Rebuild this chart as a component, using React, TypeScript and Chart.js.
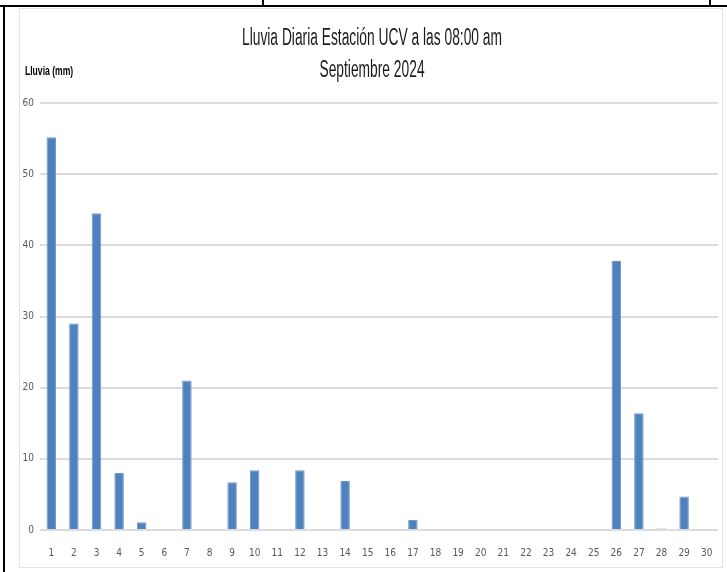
import React, { useEffect, useRef } from "react";
import { Chart, registerables } from "chart.js";

Chart.register(...registerables);

const days = Array.from({ length: 30 }, (_, i) => String(i + 1));
const rainfall = [
  55.2, 29.0, 44.5, 8.0, 1.1, 0, 21.0, 0, 6.7, 8.4,
  0, 8.4, 0, 6.9, 0, 0, 1.4, 0, 0, 0,
  0, 0, 0, 0, 0, 37.8, 16.4, 0.2, 4.7, 0,
];
const titleLines = ["Lluvia Diaria Estación UCV a las 08:00 am", "Septiembre 2024"];
const yAxisLabel = "Lluvia (mm)";

const FONT = "'DejaVu Sans Condensed', 'Liberation Sans', sans-serif";

function narrowText(ctx: CanvasRenderingContext2D, text: string, x: number, y: number, sx: number, align: CanvasTextAlign) {
  ctx.save();
  ctx.translate(x, y);
  ctx.scale(sx, 1);
  ctx.textAlign = align;
  ctx.fillText(text, 0, 0);
  ctx.restore();
}

export default function App() {
  const ref = useRef<HTMLCanvasElement>(null);

  useEffect(() => {
    document.body.style.margin = "0";
    const textPlugin = {
      id: "textPlugin",
      afterDraw(chart: any) {
        const ctx = chart.ctx as CanvasRenderingContext2D;
        ctx.save();
        ctx.fillStyle = "#1a1a1a";
        ctx.textBaseline = "middle";
        ctx.font = `23px 'Liberation Sans', sans-serif`;
        narrowText(ctx, titleLines[0], 352, 30, 0.6, "center");
        narrowText(ctx, titleLines[1], 352, 62, 0.6, "center");
        ctx.font = `bold 13px 'Liberation Sans', sans-serif`;
        ctx.fillStyle = "#000";
        narrowText(ctx, yAxisLabel, 5, 62, 0.66, "left");
        ctx.restore();
      },
    };
    const chart = new Chart(ref.current!, {
      type: "bar",
      data: {
        labels: days,
        datasets: [
          {
            data: rainfall,
            backgroundColor: "#4f81bd",
            borderColor: "#6f98cc",
            borderWidth: 1,
            barPercentage: 0.42,
            categoryPercentage: 1,
          },
        ],
      },
      options: {
        animation: false,
        responsive: false,
        layout: { padding: { top: 94, right: 4, left: 0, bottom: 0 } },
        plugins: { legend: { display: false }, title: { display: false }, tooltip: { enabled: false } },
        scales: {
          x: {
            grid: { display: false },
            border: { display: false },
            ticks: { color: "#595959", font: { family: FONT, size: 10 }, padding: 9, maxRotation: 0, autoSkip: false },
            afterFit(scale: any) {
              scale.height = 37;
            },
          },
          y: {
            min: 0,
            max: 60,
            ticks: { stepSize: 10, color: "#595959", font: { family: FONT, size: 10 }, padding: 6 },
            grid: { color: "#dcdcdc", lineWidth: 2, drawTicks: false },
            border: { display: false },
            afterFit(scale: any) {
              scale.width = 20;
            },
          },
        },
      },
      plugins: [textPlugin],
    });
    return () => chart.destroy();
  }, []);

  return (
    <div style={{ position: "fixed", left: 0, top: 0, width: 727, height: 572, background: "#fff" }}>
      <div style={{ position: "absolute", left: 0, top: 5, width: 727, height: 2, background: "#000" }} />
      <div style={{ position: "absolute", left: 3, top: 5, width: 2, height: 567, background: "#000" }} />
      <div style={{ position: "absolute", left: 262, top: 0, width: 2, height: 6, background: "#000" }} />
      <div style={{ position: "absolute", left: 709, top: 0, width: 2, height: 6, background: "#000" }} />
      <div
        style={{
          position: "absolute",
          left: 19,
          top: 8,
          width: 704,
          height: 560,
          border: "1px solid #e3e3e3",
          boxSizing: "border-box",
        }}
      >
        <canvas ref={ref} width={702} height={558} style={{ display: "block" }} />
      </div>
    </div>
  );
}
